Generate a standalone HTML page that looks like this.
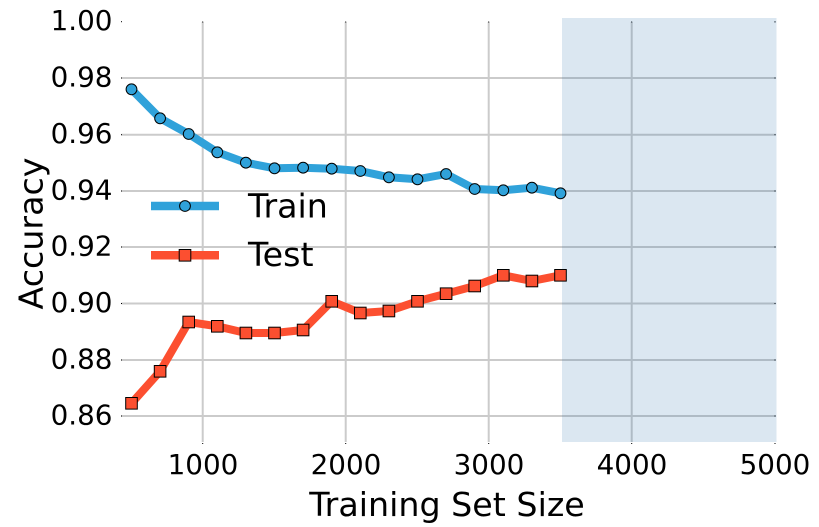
<!DOCTYPE html>
<html>
<head>
<meta charset="utf-8">
<style>
html,body{margin:0;padding:0;background:#fff;}
svg{display:block;}
text{font-family:"DejaVu Sans","Liberation Sans",sans-serif;fill:#000;}
</style>
</head>
<body>
<svg width="819" height="527" viewBox="0 0 819 527" xmlns="http://www.w3.org/2000/svg">
  <!-- grid -->
  <g stroke="#cbcbcb" stroke-width="2" fill="none">
    <line x1="121.5" y1="78" x2="776" y2="78"/>
    <line x1="121.5" y1="134.7" x2="776" y2="134.7"/>
    <line x1="121.5" y1="191" x2="776" y2="191"/>
    <line x1="121.5" y1="247" x2="776" y2="247"/>
    <line x1="121.5" y1="303.5" x2="776" y2="303.5"/>
    <line x1="121.5" y1="360" x2="776" y2="360"/>
    <line x1="121.5" y1="416" x2="776" y2="416"/>
    <line x1="202.7" y1="22" x2="202.7" y2="442"/>
    <line x1="345.7" y1="22" x2="345.7" y2="442"/>
    <line x1="488.7" y1="22" x2="488.7" y2="442"/>
    <line x1="631.7" y1="22" x2="631.7" y2="442"/>
  </g>
  <!-- tick dots -->
  <g fill="#000">
    <rect x="121" y="21.2" width="1" height="1"/>
    <rect x="121" y="77.5" width="1" height="1"/>
    <rect x="121" y="134.2" width="1" height="1"/>
    <rect x="121" y="190.5" width="1" height="1"/>
    <rect x="121" y="246.5" width="1" height="1"/>
    <rect x="121" y="303" width="1" height="1"/>
    <rect x="121" y="359.5" width="1" height="1"/>
    <rect x="121" y="415.5" width="1" height="1"/>
    <rect x="774.5" y="21.2" width="1" height="1"/>
    <rect x="774.5" y="77.5" width="1" height="1"/>
    <rect x="774.5" y="134.2" width="1" height="1"/>
    <rect x="774.5" y="190.5" width="1" height="1"/>
    <rect x="774.5" y="246.5" width="1" height="1"/>
    <rect x="774.5" y="303" width="1" height="1"/>
    <rect x="774.5" y="359.5" width="1" height="1"/>
    <rect x="774.5" y="415.5" width="1" height="1"/>
    <rect x="202.2" y="443" width="1" height="1"/>
    <rect x="345.2" y="443" width="1" height="1"/>
    <rect x="488.2" y="443" width="1" height="1"/>
    <rect x="631.2" y="443" width="1" height="1"/>
    <rect x="774.5" y="443" width="1" height="1"/>
    <rect x="202.2" y="21.5" width="1" height="1"/>
    <rect x="345.2" y="21.5" width="1" height="1"/>
    <rect x="488.2" y="21.5" width="1" height="1"/>
    <rect x="631.2" y="21.5" width="1" height="1"/>
    <rect x="774.5" y="21.5" width="1" height="1"/>
  </g>
  <!-- shaded span -->
  <rect x="562" y="18" width="214.5" height="424" fill="#1f6aa5" fill-opacity="0.16"/>

  <!-- Train series -->
  <polyline fill="none" stroke="#30a2da" stroke-width="8" stroke-linejoin="round"
    points="131.5,89.3 160.1,118.3 188.7,134 217.3,152.3 245.9,162.7 274.5,168.3 303.1,167.7 331.7,168.7 360.3,171 388.9,177.3 417.5,179.3 446.1,174 474.7,189 503.3,190.3 531.9,187.7 560.5,193.3"/>
  <g fill="#30a2da" stroke="#000" stroke-width="1">
    <circle cx="131.5" cy="89.3" r="5.4"/>
    <circle cx="160.1" cy="118.3" r="5.4"/>
    <circle cx="188.7" cy="134" r="5.4"/>
    <circle cx="217.3" cy="152.3" r="5.4"/>
    <circle cx="245.9" cy="162.7" r="5.4"/>
    <circle cx="274.5" cy="168.3" r="5.4"/>
    <circle cx="303.1" cy="167.7" r="5.4"/>
    <circle cx="331.7" cy="168.7" r="5.4"/>
    <circle cx="360.3" cy="171" r="5.4"/>
    <circle cx="388.9" cy="177.3" r="5.4"/>
    <circle cx="417.5" cy="179.3" r="5.4"/>
    <circle cx="446.1" cy="174" r="5.4"/>
    <circle cx="474.7" cy="189" r="5.4"/>
    <circle cx="503.3" cy="190.3" r="5.4"/>
    <circle cx="531.9" cy="187.7" r="5.4"/>
    <circle cx="560.5" cy="193.3" r="5.4"/>
  </g>

  <!-- Test series -->
  <polyline fill="none" stroke="#fc4f30" stroke-width="8" stroke-linejoin="round"
    points="131.5,403.3 160.1,371.3 188.7,322 217.3,326.3 245.9,333 274.5,333 303.1,330 331.7,301.3 360.3,313 388.9,311 417.5,301.3 446.1,293.7 474.7,286 503.3,275.3 531.9,281 560.5,275.3"/>
  <g fill="#fc4f30" stroke="#000" stroke-width="1">
    <rect x="125.7" y="397.5" width="11.6" height="11.6"/>
    <rect x="154.3" y="365.5" width="11.6" height="11.6"/>
    <rect x="182.9" y="316.2" width="11.6" height="11.6"/>
    <rect x="211.5" y="320.5" width="11.6" height="11.6"/>
    <rect x="240.1" y="327.2" width="11.6" height="11.6"/>
    <rect x="268.7" y="327.2" width="11.6" height="11.6"/>
    <rect x="297.3" y="324.2" width="11.6" height="11.6"/>
    <rect x="325.9" y="295.5" width="11.6" height="11.6"/>
    <rect x="354.5" y="307.2" width="11.6" height="11.6"/>
    <rect x="383.1" y="305.2" width="11.6" height="11.6"/>
    <rect x="411.7" y="295.5" width="11.6" height="11.6"/>
    <rect x="440.3" y="287.9" width="11.6" height="11.6"/>
    <rect x="468.9" y="280.2" width="11.6" height="11.6"/>
    <rect x="497.5" y="269.5" width="11.6" height="11.6"/>
    <rect x="526.1" y="275.2" width="11.6" height="11.6"/>
    <rect x="554.7" y="269.5" width="11.6" height="11.6"/>
  </g>

  <!-- legend -->
  <line x1="151" y1="206" x2="219" y2="206" stroke="#30a2da" stroke-width="8.5"/>
  <circle cx="185" cy="206" r="5.4" fill="#30a2da" stroke="#000" stroke-width="1"/>
  <text x="248" y="217.3" font-size="33.3">Train</text>
  <line x1="151" y1="255.3" x2="219" y2="255.3" stroke="#fc4f30" stroke-width="8.5"/>
  <rect x="179.2" y="249.5" width="11.6" height="11.6" fill="#fc4f30" stroke="#000" stroke-width="1"/>
  <text x="248" y="266" font-size="33.3">Test</text>

  <!-- y tick labels -->
  <g font-size="27.8" text-anchor="end">
    <text x="112.5" y="30.1">1.00</text>
    <text x="112.5" y="86.4">0.98</text>
    <text x="112.5" y="143.1">0.96</text>
    <text x="112.5" y="199.4">0.94</text>
    <text x="112.5" y="255.4">0.92</text>
    <text x="112.5" y="311.9">0.90</text>
    <text x="112.5" y="368.4">0.88</text>
    <text x="112.5" y="424.4">0.86</text>
  </g>
  <!-- x tick labels -->
  <g font-size="27.8" text-anchor="middle">
    <text x="203" y="474">1000</text>
    <text x="346" y="474">2000</text>
    <text x="489" y="474">3000</text>
    <text x="632" y="474">4000</text>
    <text x="775" y="474">5000</text>
  </g>
  <!-- axis labels -->
  <text x="447" y="516" font-size="33.3" text-anchor="middle">Training Set Size</text>
  <text x="0" y="0" font-size="33.3" text-anchor="middle" transform="translate(42.3,233.5) rotate(-90)">Accuracy</text>
</svg>
</body>
</html>
